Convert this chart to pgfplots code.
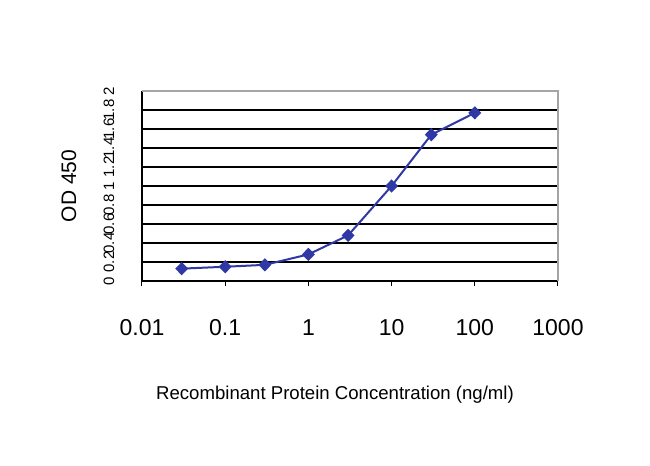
\documentclass[border=0pt]{standalone}
\usepackage{pgfplots}
\pgfplotsset{compat=1.18}
\usepackage{fontspec}
\setmainfont{Liberation Sans}
\definecolor{serblue}{RGB}{48,56,165}
\definecolor{framegray}{RGB}{165,165,165}

\begin{document}
\begin{tikzpicture}
  % canvas of 650x466 px, 1px = 0.5pt
  \useasboundingbox (0,0) rectangle (325pt,233pt);
  \begin{axis}[
    at={(71pt,92.5pt)}, anchor=south west,
    scale only axis, width=208pt, height=95pt,
    xmode=log, xmin=0.01, xmax=1000,
    ymin=0, ymax=2,
    axis x line=bottom, axis y line=left,
    axis line style={-, black, line width=0.8pt},
    xtick={0.01,0.1,1,10,100,1000},
    xticklabels={0.01,0.1,1,10,100,1000},
    xminorticks=false,
    tick align=outside,
    major tick length=2.5pt,
    xtick style={black, line width=0.5pt},
    ytick style={draw=none},
    ytick={0,0.2,0.4,0.6,0.8,1,1.2,1.4,1.6,1.8},
    yticklabels={0,0.2,0.4,0.6,0.8,1,1.2,1.4,1.6,1.8},
    extra y ticks={2}, extra y tick labels={2},
    extra y tick style={grid=none},
    ymajorgrids,
    grid style={black, line width=0.8pt},
    /pgf/number format/assume math mode=true,
    xticklabel style={anchor=center, yshift=-21pt,
      font=\fontsize{11.5}{13}\selectfont},
    yticklabel style={anchor=center, xshift=-14pt, rotate=90,
      font=\fontsize{7.5}{8}\selectfont},
    every axis y label/.style={at={(rel axis cs:0,0.5)},
      anchor=center, xshift=-36.5pt, rotate=90, font=\fontsize{10.5}{12}\selectfont},
    every axis x label/.style={at={(rel axis cs:0.5,0)}, anchor=center,
      yshift=-57pt, xshift=-7.5pt, font=\fontsize{9.3}{11}\selectfont},
    ylabel={OD 450},
    xlabel={Recombinant Protein Concentration (ng/ml)},
    clip=false,
  ]
    \addplot[serblue, line width=1pt, mark=diamond*, mark size=2.6pt,
      mark options={fill=serblue, solid, xscale=1.3}]
      coordinates {(0.03,0.13) (0.1,0.15) (0.3,0.17) (1,0.28)
        (3,0.48) (10,1.0) (30,1.54) (100,1.77)};
    \draw[framegray, line width=0.65pt]
      (rel axis cs:0,1) -- (rel axis cs:1,1) -- (rel axis cs:1,0);
  \end{axis}
\end{tikzpicture}
\end{document}
